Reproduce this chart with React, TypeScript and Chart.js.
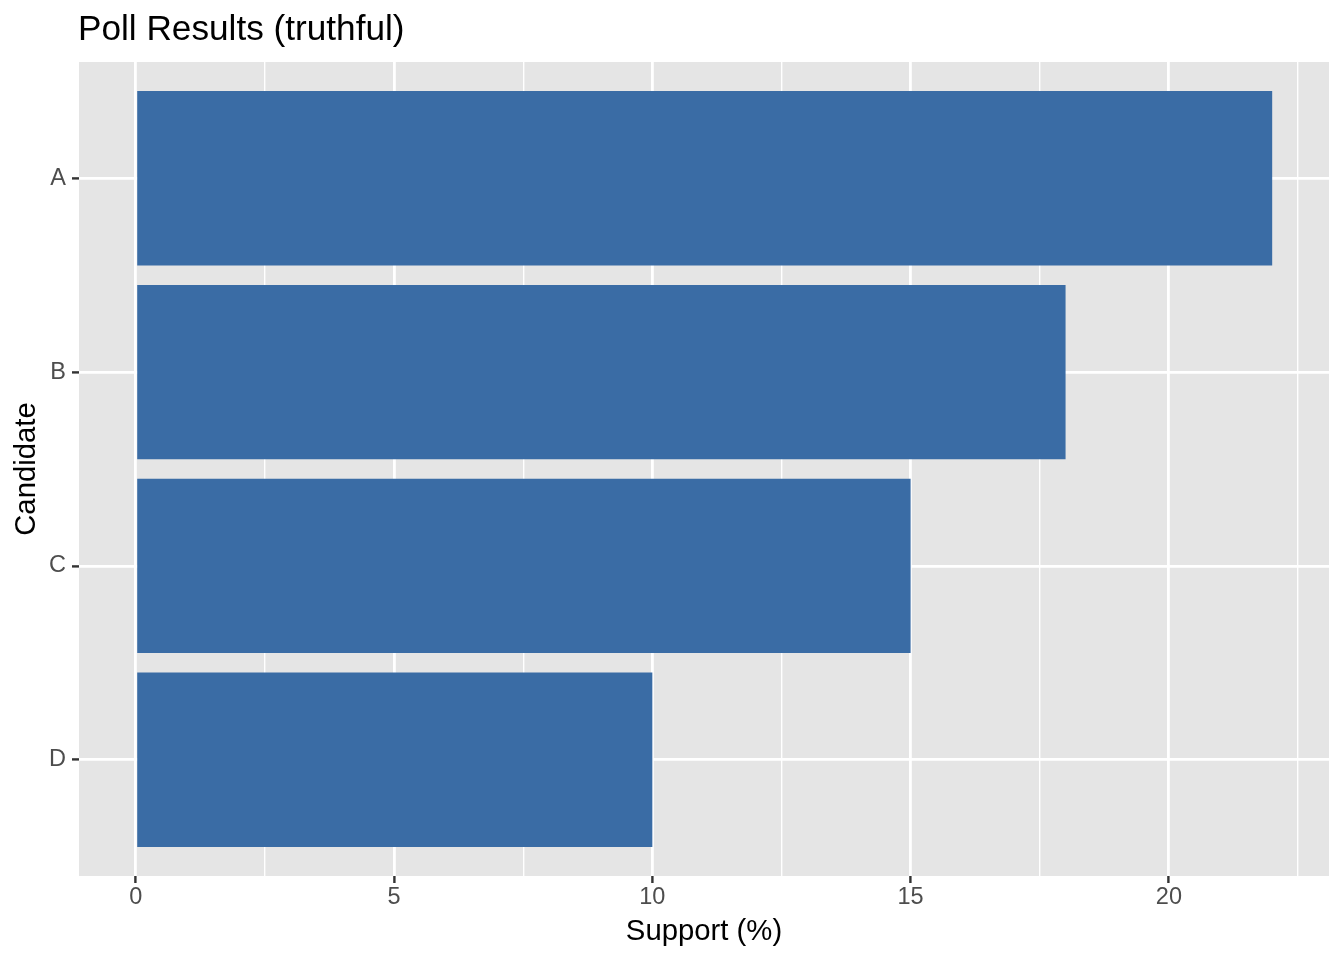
import React, { useEffect, useRef } from 'react';
import { Chart, registerables } from 'chart.js';

Chart.register(...registerables);

const candidates = ['A', 'B', 'C', 'D'];
const support = [22, 18, 15, 10];
const xTicks = [0, 2.5, 5, 7.5, 10, 12.5, 15, 17.5, 20, 22.5];
const majorTicks = [0, 5, 10, 15, 20];

const FONT = '"Liberation Sans", Arial, Helvetica, sans-serif';

// grey panel behind the grid
const panelBackground = {
  id: 'panelBackground',
  beforeDraw(chart: any) {
    const { ctx, chartArea } = chart;
    ctx.save();
    ctx.fillStyle = '#E5E5E5';
    ctx.fillRect(chartArea.left, chartArea.top, chartArea.right - chartArea.left, chartArea.bottom - chartArea.top);
    ctx.restore();
  },
};

// left aligned title like ggplot
const plotTitle = {
  id: 'plotTitle',
  afterDraw(chart: any) {
    const { ctx, chartArea } = chart;
    ctx.save();
    ctx.font = `35.2px ${FONT}`;
    ctx.fillStyle = '#000000';
    ctx.textAlign = 'left';
    ctx.textBaseline = 'alphabetic';
    ctx.fillText('Poll Results (truthful)', chartArea.left - 1, 40);
    ctx.restore();
  },
};

const isMajor = (v: number) => majorTicks.includes(v);

const App: React.FC = () => {
  const chartRef = useRef<HTMLCanvasElement>(null);
  const chartInstance = useRef<Chart>();

  useEffect(() => {
    if (!chartRef.current) return;
    const ctx = chartRef.current.getContext('2d');
    if (!ctx) return;
    if (chartInstance.current) chartInstance.current.destroy();

    chartInstance.current = new Chart(ctx, {
      type: 'bar',
      data: {
        datasets: [
          {
            label: 'Support',
            data: candidates.map((c, i) => ({ x: support[i], y: i + 1 })),
            backgroundColor: '#3A6CA5',
            borderWidth: 0,
            categoryPercentage: 0.9,
            barPercentage: 1.0,
          },
        ],
      },
      plugins: [panelBackground, plotTitle],
      options: {
        indexAxis: 'y',
        animation: false,
        responsive: true,
        maintainAspectRatio: false,
        layout: { padding: { top: 62, right: 15, left: 0, bottom: 0 } },
        plugins: {
          legend: { display: false },
          tooltip: { enabled: false },
        },
        scales: {
          x: {
            type: 'linear',
            min: -1.1,
            max: 23.1,
            afterBuildTicks: (scale: any) => {
              scale.ticks = xTicks.map((v) => ({ value: v }));
            },
            afterFit: (scale: any) => {
              scale.height = 84;
            },
            border: { display: false },
            grid: {
              color: '#FFFFFF',
              lineWidth: (c: any) => (isMajor(c.tick?.value) ? 2.8 : 1.4),
              tickColor: (c: any) => (isMajor(c.tick?.value) ? '#333333' : 'rgba(0,0,0,0)'),
              tickWidth: 2.4,
              tickLength: 7,
            },
            ticks: {
              padding: 0,
              color: '#4D4D4D',
              font: { family: FONT, size: 23.5 },
              maxRotation: 0,
              autoSkip: false,
              callback: (v: any) => (isMajor(Number(v)) ? String(v) : ''),
            },
            title: {
              display: true,
              text: 'Support (%)',
              color: '#000000',
              font: { family: FONT, size: 29.3 },
              padding: { top: 0, bottom: 11 },
            },
          },
          y: {
            type: 'linear',
            reverse: true,
            offset: false,
            min: 0.4,
            max: 4.6,
            afterBuildTicks: (scale: any) => {
              scale.ticks = candidates.map((c, i) => ({ value: i + 1 }));
            },
            afterFit: (scale: any) => {
              scale.width = 79;
            },
            border: { display: false },
            grid: {
              offset: false,
              color: '#FFFFFF',
              lineWidth: 2.8,
              tickColor: '#333333',
              tickWidth: 2.4,
              tickLength: 7,
            },
            ticks: {
              padding: 6,
              color: '#4D4D4D',
              font: { family: FONT, size: 23.5 },
              autoSkip: false,
              callback: (v: any) => candidates[Number(v) - 1] ?? '',
            },
            title: {
              display: true,
              text: 'Candidate',
              color: '#000000',
              font: { family: FONT, size: 29.3 },
              padding: { top: 9, bottom: 0 },
            },
          },
        },
      },
    });

    return () => {
      if (chartInstance.current) {
        chartInstance.current.destroy();
        chartInstance.current = undefined;
      }
    };
  }, []);

  return (
    <div style={{ position: 'absolute', left: 0, top: 0, width: 1344, height: 960, background: '#FFFFFF' }}>
      <canvas ref={chartRef} />
    </div>
  );
};

export default App;
